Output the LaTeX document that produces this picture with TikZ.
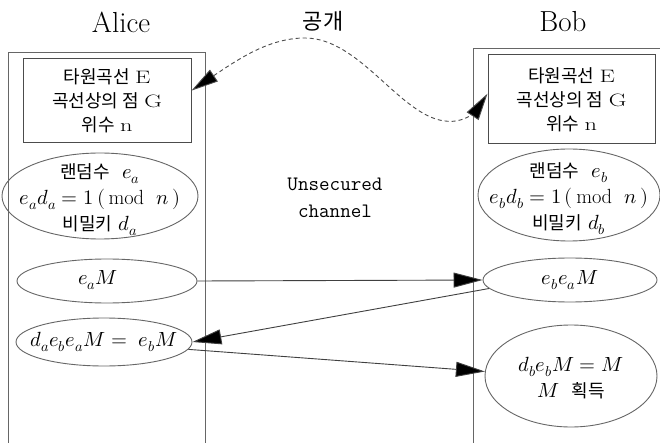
\documentclass[tikz,border=0pt]{standalone}
\usepackage{fontspec}
\usepackage{unicode-math}
\usepackage{graphicx}
\setmathfont{latinmodern-math.otf}
\newfontfamily\kr{Noto Sans CJK KR}
\newcommand\hk[1]{{\kr\fontsize{18}{24}\selectfont #1}}
\newcommand\wl[1]{\scalebox{1.35}[1]{#1}}
\usetikzlibrary{arrows.meta,shapes.geometric}
\tikzset{
  frame/.style={draw=black!60, line width=1pt, minimum width=#1, minimum height=460pt, anchor=north west, inner sep=0pt},
  infobox/.style={draw=black!70, line width=1pt, inner sep=0pt, align=center, font=\fontsize{18}{24}\selectfont},
  ell/.style={draw=black!60, line width=0.9pt, ellipse, inner sep=0pt},
  elltext/.style={align=center, inner sep=0pt, font=\fontsize{20.5}{26}\selectfont},
  title/.style={font=\fontsize{29}{32}\selectfont},
  msg/.style={draw=black!75, line width=0.9pt, -{Triangle[length=29pt,width=15pt,fill=black]}},
  pub/.style={draw=black!70, line width=0.9pt, dash pattern=on 4pt off 3pt, {Triangle[length=27pt,width=14pt,fill=black]}-{Triangle[length=27pt,width=14pt,fill=black]}}
}
\begin{document}
\begin{tikzpicture}[x=1pt,y=-1pt]
\useasboundingbox (0,0) rectangle (660,443);
\clip (0,0) rectangle (660,443);
\fill[white] (0,0) rectangle (660,443);

\node[title] (alice) at (121,22) {Alice};
\node[title] (bob) at (563,22) {Bob};
\node[title,font=\kr\fontsize{22}{26}\selectfont] (pubtxt) at (323,21) {공개};

\node[frame=197pt] (aframe) at (8,52) {};
\node[frame=260pt] (bframe) at (473,48) {};

\node[infobox, minimum width=168pt, minimum height=84pt] (abox) at (107,101)
  {\hk{타원곡선}\ \wl{E}\\\hk{곡선상의 점}\ \wl{G}\\\hk{위수}\ \wl{n}};
\node[infobox, minimum width=167pt, minimum height=89pt] (bbox) at (571.5,99.5)
  {\hk{타원곡선}\ \wl{E}\\\hk{곡선상의 점}\ \wl{G}\\\hk{위수}\ \wl{n}};

% Alice ellipses
\node[ell, minimum width=196pt, minimum height=86pt] (aell1) at (100,196) {};
\node[elltext] (aell1t) at (100,200) {\hk{랜덤수}\ \ $e_a$\\$e_a d_a = 1\,(\,\mathrm{mod}\ \ n\,)$\\\hk{비밀키}\ $d_a$};
\node[ell, minimum width=180pt, minimum height=44pt] (aell2) at (107,281) {};
\node[elltext] (aell2t) at (98,280) {$e_a M$};
\node[ell, minimum width=176pt, minimum height=48pt] (aell3) at (104,342) {};
\node[elltext] (aell3t) at (aell3) {$d_a e_b e_a M =\ e_b M$};

% Bob ellipses
\node[ell, minimum width=182pt, minimum height=92pt] (bell1) at (569,195) {};
\node[elltext] (bell1t) at (569,199) {\hk{랜덤수}\ \ $e_b$\\$e_b d_b = 1\,(\,\mathrm{mod}\ \ n\,)$\\\hk{비밀키}\ $d_b$};
\node[ell, minimum width=174pt, minimum height=44pt] (bell2) at (570,280) {};
\node[elltext] (bell2t) at (bell2) {$e_b e_a M$};
\node[ell, minimum width=172pt, minimum height=102pt] (bell3) at (571,376) {};
\node[elltext] (bell3t) at (571,378) {$d_b e_b M = M$\\$M$\ \ \hk{획득}};

\node[font=\ttfamily\fontsize{20.5}{27}\selectfont\addfontfeatures{LetterSpace=8}, align=center] (chan) at (335,198) {Unsecured\\channel};

\draw[msg] (aell2.east) -- (bell2.west);
\draw[msg] (bell2.186) -- (aell3.east);
\draw[msg] (aell3.-5) -- (bell3.177);

\draw[pub] (abox.7) .. controls (240,58) and (270,38) .. (305,38)
  .. controls (360,38) and (400,116) .. (445,121)
  .. controls (466,124) and (478,108) .. (bbox.176);
\end{tikzpicture}
\end{document}
